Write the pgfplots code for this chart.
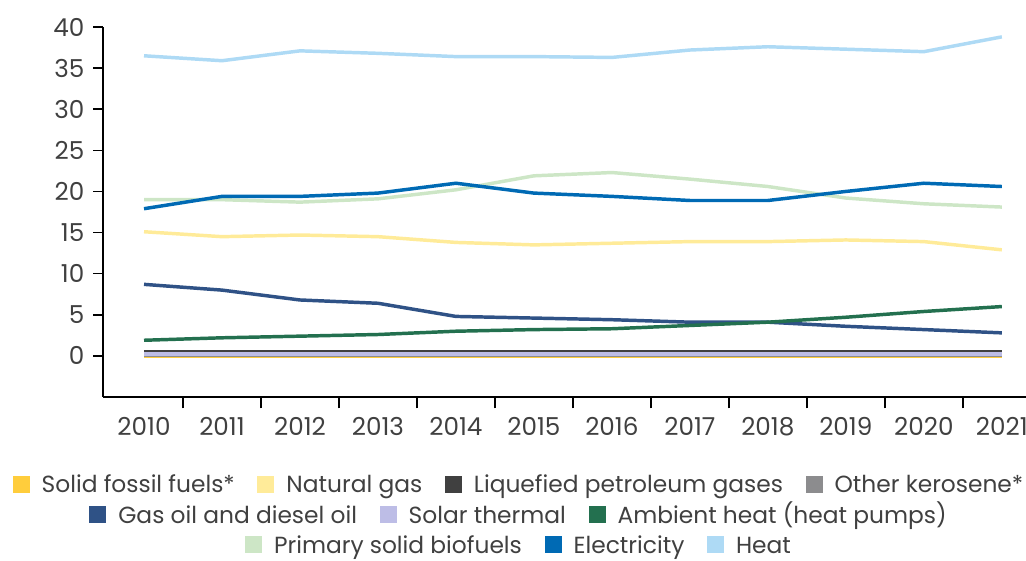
\documentclass[border=0pt]{standalone}
\usepackage{pgfplots}
\pgfplotsset{compat=1.18}
\usepackage{fontspec}
\setmainfont{Poppins}
\definecolor{sff}{HTML}{FFCD3C}
\definecolor{ngas}{HTML}{FFEB99}
\definecolor{lpg}{HTML}{404040}
\definecolor{kero}{HTML}{8C8C8E}
\definecolor{gasoil}{HTML}{2F5286}
\definecolor{solar}{HTML}{BDBDE6}
\definecolor{ambient}{HTML}{23704F}
\definecolor{biof}{HTML}{CDE6C6}
\definecolor{elec}{HTML}{006AB4}
\definecolor{heat}{HTML}{AEDAF5}
\definecolor{txt}{HTML}{404040}
\newcommand{\lentry}[2]{\textcolor{#1}{\rule{12.75pt}{12.75pt}}\hspace{9pt}#2}
\newcommand{\lgap}{\hspace{17pt}}
\begin{document}
\begin{tikzpicture}
\path[use as bounding box] (0,0) rectangle (769.5pt,420.75pt);
\begin{axis}[
  at={(77.25pt,123pt)}, anchor=south west,
  scale only axis, width=692.25pt, height=277.5pt,
  xmin=-0.526, xmax=11.31, ymin=-5, ymax=40,
  axis x line*=bottom, axis y line*=left,
  x axis line style={-, line width=1.2pt},
  y axis line style={-, line width=1.2pt},
  xtick={0,...,11},
  xticklabels={2010,2011,2012,2013,2014,2015,2016,2017,2018,2019,2020,2021},
  minor xtick={0.5,1.5,...,10.5},
  ytick={0,5,...,40},
  tick align=outside,
  major tick length=7.5pt,
  minor tick length=8.5pt,
  major x tick style={draw=none},
  minor x tick style={black, line width=1.1pt},
  major y tick style={black, line width=1.1pt},
  /pgf/number format/assume math mode=true,
  tick label style={font=\fontsize{18.5}{22}\selectfont, text=txt},
  xticklabel style={yshift=-4pt},
  yticklabel style={xshift=-3pt},
  every axis plot/.append style={line width=2.6pt, no markers},
]
\addplot[sff] coordinates {(0,0.0)(1,0.0)(2,0.0)(3,0.0)(4,0.0)(5,0.0)(6,0.0)(7,0.0)(8,0.0)(9,0.0)(10,0.0)(11,0.0)};
\addplot[ngas] coordinates {(0,15.1)(1,14.5)(2,14.7)(3,14.5)(4,13.8)(5,13.5)(6,13.7)(7,13.9)(8,13.9)(9,14.1)(10,13.9)(11,12.9)};
\addplot[lpg] coordinates {(0,0.5)(1,0.5)(2,0.5)(3,0.5)(4,0.5)(5,0.5)(6,0.5)(7,0.5)(8,0.5)(9,0.5)(10,0.5)(11,0.5)};
\addplot[kero] coordinates {(0,0.1)(1,0.1)(2,0.1)(3,0.1)(4,0.1)(5,0.1)(6,0.1)(7,0.1)(8,0.1)(9,0.1)(10,0.1)(11,0.1)};
\addplot[gasoil] coordinates {(0,8.7)(1,8.0)(2,6.8)(3,6.4)(4,4.8)(5,4.6)(6,4.4)(7,4.1)(8,4.1)(9,3.6)(10,3.2)(11,2.8)};
\addplot[solar] coordinates {(0,0.25)(1,0.25)(2,0.25)(3,0.25)(4,0.25)(5,0.25)(6,0.25)(7,0.25)(8,0.25)(9,0.25)(10,0.25)(11,0.25)};
\addplot[ambient] coordinates {(0,1.9)(1,2.2)(2,2.4)(3,2.6)(4,3.0)(5,3.2)(6,3.3)(7,3.7)(8,4.1)(9,4.7)(10,5.4)(11,6.0)};
\addplot[biof] coordinates {(0,19.0)(1,19.0)(2,18.7)(3,19.1)(4,20.2)(5,21.9)(6,22.3)(7,21.5)(8,20.6)(9,19.2)(10,18.5)(11,18.1)};
\addplot[elec] coordinates {(0,17.9)(1,19.4)(2,19.4)(3,19.8)(4,21.0)(5,19.8)(6,19.4)(7,18.9)(8,18.9)(9,20.0)(10,21.0)(11,20.6)};
\addplot[heat] coordinates {(0,36.5)(1,35.9)(2,37.1)(3,36.8)(4,36.4)(5,36.4)(6,36.3)(7,37.2)(8,37.6)(9,37.3)(10,37.0)(11,38.8)};
\end{axis}
\begin{scope}[every node/.style={anchor=base, inner sep=0pt, text=txt, font=\fontsize{17.5}{20}\selectfont}]
\node at (388.5pt,51pt) {\lentry{sff}{Solid fossil fuels*}\lgap\lentry{ngas}{Natural gas}\lgap\lentry{lpg}{Liquefied petroleum gases}\lgap\lentry{kero}{Other kerosene*}};
\node at (388.5pt,28.25pt) {\lentry{gasoil}{Gas oil and diesel oil}\lgap\lentry{solar}{Solar thermal}\lgap\lentry{ambient}{Ambient heat (heat pumps)}};
\node at (388.5pt,5.75pt) {\lentry{biof}{Primary solid biofuels}\lgap\lentry{elec}{Electricity}\lgap\lentry{heat}{Heat}};
\end{scope}
\end{tikzpicture}
\end{document}
